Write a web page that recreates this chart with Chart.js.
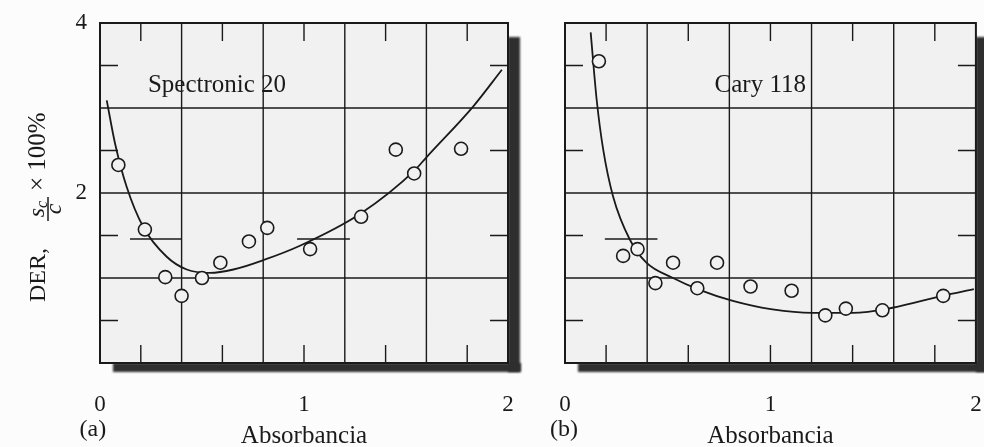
<!DOCTYPE html>
<html>
<head>
<meta charset="utf-8">
<script src="https://cdn.jsdelivr.net/npm/chart.js@4.4.1/dist/chart.umd.min.js"></script>
<style>
  html, body { margin: 0; padding: 0; background: #fcfcfc; }
  #wrap { position: relative; width: 984px; height: 447px; }
  canvas { position: absolute; left: 0; top: 0; }
</style>
</head>
<body>
<div id="wrap">
  <canvas id="chartA" width="984" height="447"></canvas>
  <canvas id="chartB" width="984" height="447"></canvas>
</div>
<script>
// (a) Spectronic 20
const spec20PointsX = [0.09, 0.22, 0.32, 0.40, 0.50, 0.59, 0.73, 0.82, 1.03, 1.28, 1.45, 1.54, 1.77];
const spec20PointsY = [2.33, 1.57, 1.01, 0.79, 1.00, 1.18, 1.43, 1.59, 1.34, 1.72, 2.51, 2.23, 2.52];
const spec20CurveX = [0.033, 0.074, 0.131, 0.212, 0.327, 0.425, 0.539, 0.654, 0.80, 0.98, 1.278, 1.544, 1.60, 1.83, 1.97];
const spec20CurveY = [3.09, 2.58, 2.07, 1.60, 1.25, 1.10, 1.06, 1.10, 1.21, 1.38, 1.76, 2.27, 2.42, 3.02, 3.45];
const spec20Marks = [[0.147, 0.40], [0.966, 1.225]];

// (b) Cary 118
const caryPointsX = [0.165, 0.283, 0.353, 0.44, 0.526, 0.644, 0.74, 0.903, 1.103, 1.267, 1.367, 1.545, 1.841];
const caryPointsY = [3.55, 1.26, 1.34, 0.94, 1.18, 0.88, 1.18, 0.90, 0.85, 0.56, 0.64, 0.62, 0.79];
const caryCurveX = [0.125, 0.154, 0.186, 0.234, 0.316, 0.396, 0.526, 0.655, 0.817, 1.01, 1.205, 1.40, 1.594, 1.836, 1.99];
const caryCurveY = [3.89, 3.10, 2.51, 1.96, 1.45, 1.18, 1.00, 0.86, 0.73, 0.63, 0.59, 0.59, 0.65, 0.79, 0.87];
const caryMarks = [[0.194, 0.45]];
const markLevel = 1.46;

// axes
const xTickLabels = [0, 1, 2];
const yTickLabels = [2, 4];
const xGridLines = [0.4, 0.8, 1.2, 1.6];
const yGridLines = [1, 2, 3];
const xMinorTicks = [0.2, 0.6, 1.0, 1.4, 1.8];
const yMinorTicks = [0.5, 1.5, 2.5, 3.5];

const INK = "#1a1a1a";
const PLOT_BG = "#f1f1f1";
const SERIF = '"Liberation Serif", "DejaVu Serif", serif';

function toPoints(xs, ys) {
  return xs.map((x, i) => ({ x: x, y: ys[i] }));
}

function markDatasets(marks) {
  return marks.map((m) => ({
    type: "line",
    data: [{ x: m[0], y: markLevel }, { x: m[1], y: markLevel }],
    borderColor: INK,
    borderWidth: 1.5,
    pointRadius: 0,
    order: 3,
  }));
}

function drawYTitle(ctx) {
  ctx.save();
  ctx.translate(45, 302);
  ctx.rotate(-Math.PI / 2);
  ctx.fillStyle = INK;
  ctx.strokeStyle = INK;
  ctx.textBaseline = "alphabetic";
  ctx.textAlign = "left";
  ctx.font = "24px " + SERIF;
  ctx.fillText("DER,", 0, 0);

  // fraction s_c / c
  ctx.lineWidth = 1.5;
  ctx.beginPath();
  ctx.moveTo(81, 3);
  ctx.lineTo(105, 3);
  ctx.stroke();
  ctx.font = "italic 24px " + SERIF;
  const ws = ctx.measureText("s").width;
  ctx.font = "italic 16px " + SERIF;
  const wc = ctx.measureText("c").width;
  const numStart = 93 - (ws + wc) / 2;
  ctx.font = "italic 24px " + SERIF;
  ctx.fillText("s", numStart, -1);
  ctx.font = "italic 16px " + SERIF;
  ctx.fillText("c", numStart + ws, 2);
  ctx.font = "italic 24px " + SERIF;
  ctx.textAlign = "center";
  ctx.fillText("c", 93, 16);

  ctx.textAlign = "left";
  ctx.font = "25px " + SERIF;
  ctx.fillText("\u00d7 100%", 111, 0);
  ctx.restore();
}

const panelPlugin = {
  id: "panel",
  beforeDatasetsDraw(chart, args, opts) {
    const { ctx, chartArea: a } = chart;
    const x = chart.scales.x;
    const y = chart.scales.y;
    ctx.save();

    // dark offset shadow right and below the frame
    ctx.fillStyle = "#2e2e2e";
    ctx.filter = "blur(1px)";
    ctx.fillRect(a.right, a.top + 14, 12, a.height - 5);
    ctx.fillRect(a.left + 13, a.bottom, a.width, 9);
    ctx.filter = "none";

    ctx.fillStyle = PLOT_BG;
    ctx.fillRect(a.left, a.top, a.width, a.height);

    ctx.strokeStyle = INK;
    ctx.lineWidth = 1.4;
    ctx.beginPath();
    for (const v of xGridLines) {
      const px = x.getPixelForValue(v);
      ctx.moveTo(px, a.top);
      ctx.lineTo(px, a.bottom);
    }
    for (const v of yGridLines) {
      const py = y.getPixelForValue(v);
      ctx.moveTo(a.left, py);
      ctx.lineTo(a.right, py);
    }
    for (const v of xMinorTicks) {
      const px = x.getPixelForValue(v);
      ctx.moveTo(px, a.top);
      ctx.lineTo(px, a.top + 18);
      ctx.moveTo(px, a.bottom);
      ctx.lineTo(px, a.bottom - 18);
    }
    for (const v of yMinorTicks) {
      const py = y.getPixelForValue(v);
      ctx.moveTo(a.left, py);
      ctx.lineTo(a.left + 18, py);
      ctx.moveTo(a.right, py);
      ctx.lineTo(a.right - 18, py);
    }
    ctx.stroke();

    ctx.lineWidth = 2;
    ctx.strokeRect(a.left, a.top, a.width, a.height);

    ctx.fillStyle = INK;
    ctx.font = "25px " + SERIF;
    ctx.textAlign = "left";
    ctx.textBaseline = "alphabetic";
    ctx.fillText(opts.name, x.getPixelForValue(opts.nameX), y.getPixelForValue(opts.nameY));
    ctx.font = "24px " + SERIF;
    ctx.fillText(opts.tag, x.getPixelForValue(opts.tagX), 436);
    ctx.restore();
  },
  afterDraw(chart, args, opts) {
    if (opts.yTitle) drawYTitle(chart.ctx);
  },
};

function fixBox(width, height) {
  return function (scale) {
    if (width !== undefined) scale.width = width;
    if (height !== undefined) scale.height = height;
    scale.paddingLeft = 0;
    scale.paddingRight = 0;
    scale.paddingTop = 0;
    scale.paddingBottom = 0;
  };
}

function makeConfig(curve, points, marks, panel, padding, showY) {
  return {
    type: "scatter",
    data: {
      datasets: [
        {
          type: "line",
          data: curve,
          borderColor: INK,
          borderWidth: 1.8,
          pointRadius: 0,
          cubicInterpolationMode: "monotone",
          order: 2,
        },
        ...markDatasets(marks),
        {
          data: points,
          pointStyle: "circle",
          pointRadius: 6.5,
          pointBackgroundColor: PLOT_BG,
          pointBorderColor: INK,
          pointBorderWidth: 1.6,
          order: 1,
        },
      ],
    },
    options: {
      responsive: false,
      animation: false,
      devicePixelRatio: 1,
      layout: { padding: padding },
      plugins: {
        legend: { display: false },
        tooltip: { enabled: false },
        panel: panel,
      },
      scales: {
        x: {
          type: "linear",
          min: 0,
          max: 2,
          grid: { display: false },
          border: { display: false },
          afterBuildTicks: (scale) => {
            scale.ticks = xTickLabels.map((v) => ({ value: v }));
          },
          afterFit: fixBox(undefined, 84),
          ticks: {
            color: INK,
            padding: 22,
            maxRotation: 0,
            font: { family: SERIF, size: 23, lineHeight: 1 },
          },
          title: {
            display: true,
            text: "Absorbancia",
            color: INK,
            padding: { top: 0, bottom: -2 },
            font: { family: SERIF, size: 25, lineHeight: 1 },
          },
        },
        y: {
          type: "linear",
          min: 0,
          max: 4,
          display: showY,
          grid: { display: false },
          border: { display: false },
          afterBuildTicks: (scale) => {
            scale.ticks = yTickLabels.map((v) => ({ value: v }));
          },
          afterFit: fixBox(showY ? 100 : 0, undefined),
          ticks: {
            color: INK,
            padding: 5,
            font: { family: SERIF, size: 23, lineHeight: 1 },
          },
        },
      },
    },
    plugins: [panelPlugin],
  };
}

new Chart(
  document.getElementById("chartA"),
  makeConfig(
    toPoints(spec20CurveX, spec20CurveY),
    toPoints(spec20PointsX, spec20PointsY),
    spec20Marks,
    { name: "Spectronic 20", nameX: 0.235, nameY: 3.19, tag: "(a)", tagX: -0.1, yTitle: true },
    { left: 0, right: 476, top: 23, bottom: 0 },
    true
  )
);

new Chart(
  document.getElementById("chartB"),
  makeConfig(
    toPoints(caryCurveX, caryCurveY),
    toPoints(caryPointsX, caryPointsY),
    caryMarks,
    { name: "Cary 118", nameX: 0.728, nameY: 3.19, tag: "(b)", tagX: -0.073, yTitle: false },
    { left: 565, right: 7, top: 23, bottom: 0 },
    false
  )
);
</script>
</body>
</html>
